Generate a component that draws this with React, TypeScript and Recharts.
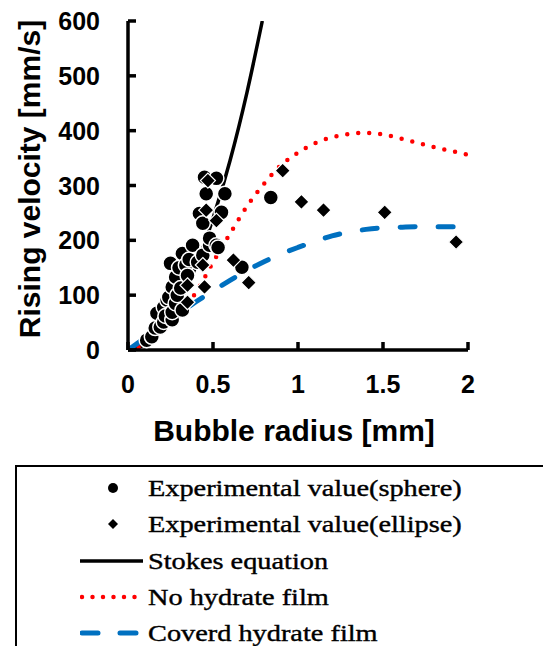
import React from 'react';
import { ComposedChart, Line, Scatter, XAxis, YAxis, Legend, Label } from 'recharts';

// bubble radius [mm] / rising velocity [mm/s]
const sphere: [number, number][] = [
  [0.11, 18], [0.14, 24], [0.16, 40], [0.17, 67], [0.19, 42], [0.21, 51], [0.21, 78],
  [0.22, 62], [0.23, 91], [0.24, 96], [0.25, 158], [0.26, 55], [0.26, 69], [0.26, 115],
  [0.28, 85], [0.28, 133], [0.29, 100], [0.30, 150], [0.31, 113], [0.32, 73], [0.32, 176],
  [0.34, 155], [0.35, 136], [0.36, 165], [0.38, 191], [0.41, 160], [0.42, 249],
  [0.44, 173], [0.44, 231], [0.45, 315], [0.46, 285], [0.48, 191], [0.48, 204],
  [0.52, 191], [0.52, 313], [0.53, 187], [0.55, 251], [0.57, 285], [0.67, 151], [0.84, 278],
];
const ellipse: [number, number][] = [
  [0.35, 87], [0.35, 118], [0.44, 155], [0.45, 115], [0.46, 255], [0.47, 309],
  [0.52, 236], [0.62, 164], [0.71, 123], [0.91, 327], [1.02, 270], [1.15, 255],
  [1.51, 251], [1.93, 197],
];
const stokesR = [0, 0.1, 0.2, 0.3, 0.4, 0.5, 0.6, 0.7, 0.79];
const stokesV = [0, 10, 38, 86, 153, 240, 345, 470, 600];
const curveR = [0, 0.1, 0.2, 0.3, 0.4, 0.5, 0.6, 0.7, 0.8, 0.9, 1.0, 1.1, 1.2, 1.3, 1.4, 1.5, 1.6, 1.7, 1.8, 1.9, 2.0];
const noFilmV = [0, 10, 33, 66, 105, 160, 212, 262, 303, 337, 360, 377, 388, 394, 396, 393, 386, 378, 370, 363, 356];
const coveredV = [0, 22, 45, 67, 88, 108, 127, 145, 161, 175, 187, 198, 208, 215, 220, 223, 224, 225, 225, 225, 225];
const xTicks = [0, 0.5, 1, 1.5, 2];
const yTicks = [0, 100, 200, 300, 400, 500, 600];
const legendNames = [
  'Experimental value(sphere)',
  'Experimental value(ellipse)',
  'Stokes equation',
  'No hydrate film',
  'Coverd hydrate film',
];

const toPts = (pairs: [number, number][]) => pairs.map(([r, v]) => ({ r, v }));
const sphereData = toPts(sphere);
const ellipseData = toPts(ellipse);
const stokesData = stokesR.map((r, i) => ({ r, v: stokesV[i] }));
const noFilmData = curveR.map((r, i) => ({ r, v: noFilmV[i] }));
const coveredData = curveR.map((r, i) => ({ r, v: coveredV[i] }));

const SANS = '"Liberation Sans", Arial, sans-serif';
const SERIF = '"Liberation Serif", "Times New Roman", serif';
const AXIS = { stroke: '#000', strokeWidth: 3.5 };
const TICKLINE = { stroke: '#000', strokeWidth: 3.5 };

// tickSize is negative so recharts draws the tick marks pointing into the plot
const LeftTick = (p: any) => (
  <text x={p.x - 36} y={p.y + 9} textAnchor="end" fontFamily={SANS} fontWeight="bold" fontSize={25} fill="#000">
    {p.payload.value}
  </text>
);
const BottomTick = (p: any) => (
  <text x={p.x} y={p.y + 51} textAnchor="middle" fontFamily={SANS} fontWeight="bold" fontSize={25} fill="#000">
    {p.payload.value}
  </text>
);

const Circle = (p: any) => <circle cx={p.cx} cy={p.cy} r={7.5} fill="#000" stroke="#fff" strokeWidth={1.5} />;
const Diamond = (p: any) => (
  <path d={`M${p.cx},${p.cy - 7.5}L${p.cx + 7.5},${p.cy}L${p.cx},${p.cy + 7.5}L${p.cx - 7.5},${p.cy}Z`} fill="#000" stroke="#fff" strokeWidth={1.2} />
);

const LegendIcon = ({ i }: { i: number }) => {
  if (i === 0) return <circle cx={33} cy={18} r={5} fill="#000" />;
  if (i === 1) return <path d="M33,13L38,18L33,23L28,18Z" fill="#000" />;
  if (i === 2) return <line x1={0} x2={63} y1={18} y2={18} stroke="#000" strokeWidth={3.5} />;
  if (i === 3) return <line x1={2} x2={58} y1={18} y2={18} stroke="#ff0000" strokeWidth={4.5} strokeLinecap="round" strokeDasharray="0 10.5" />;
  return <line x1={2} x2={58} y1={18} y2={18} stroke="#0070c0" strokeWidth={5} strokeLinecap="round" strokeDasharray="16 22" />;
};

const LegendBox = () => (
  <div style={{ border: '2px solid #000', width: 540, height: 200, paddingTop: 3, boxSizing: 'border-box' }}>
    {legendNames.map((name, i) => (
      <div key={name} style={{ position: 'relative', height: 36.3 }}>
        <svg width={66} height={36} style={{ position: 'absolute', left: 63, top: 0 }}>
          <LegendIcon i={i} />
        </svg>
        <span
          style={{
            position: 'absolute', left: 131, top: 0, lineHeight: '36px', fontFamily: SERIF, fontSize: 24,
            color: '#000', whiteSpace: 'nowrap', display: 'inline-block', transform: 'scaleX(1.18)',
            transformOrigin: 'left center', WebkitTextStroke: '0.4px #000',
          }}
        >
          {name}
        </span>
      </div>
    ))}
  </div>
);

export default function App() {
  return (
    <div style={{ position: 'absolute', left: 0, top: 0, width: 543, height: 646, background: '#fff' }}>
      <ComposedChart width={543} height={646} margin={{ top: 21, right: 75, bottom: 236, left: 0 }}>
        <XAxis
          xAxisId="b" dataKey="r" type="number" domain={[0, 2]} ticks={xTicks} interval={0}
          allowDataOverflow height={60} axisLine={AXIS} tickLine={TICKLINE} tickSize={-8} tickMargin={0} tick={<BottomTick />}
        >
          <Label
            content={(p: any) => (
              <text x={p.viewBox.x + p.viewBox.width / 2 - 4} y={441} textAnchor="middle" fontFamily={SANS} fontWeight="bold" fontSize={30} fill="#000">
                Bubble radius [mm]
              </text>
            )}
          />
        </XAxis>
        <XAxis xAxisId="t" orientation="top" type="number" domain={[0, 2]} allowDataOverflow height={0} axisLine={AXIS} tick={false} tickLine={false} />
        <YAxis
          yAxisId="l" dataKey="v" type="number" domain={[0, 600]} ticks={yTicks} interval={0}
          allowDataOverflow width={128} axisLine={AXIS} tickLine={TICKLINE} tickSize={-8} tickMargin={0} tick={<LeftTick />}
        >
          <Label
            content={() => (
              <text x={40} y={179} transform="rotate(-90, 40, 179)" textAnchor="middle" fontFamily={SANS} fontWeight="bold" fontSize={30} fill="#000">
                Rising velocity [mm/s]
              </text>
            )}
          />
        </YAxis>
        <YAxis
          yAxisId="r" orientation="right" type="number" domain={[0, 600]} ticks={yTicks} interval={0}
          allowDataOverflow width={0} axisLine={AXIS} tickLine={TICKLINE} tickSize={-8} tickMargin={0} tick={() => <g />}
        />
        <Line xAxisId="b" yAxisId="l" data={stokesData} dataKey="v" type="monotone" stroke="#000" strokeWidth={3.5} dot={false} isAnimationActive={false} name={legendNames[2]} />
        <Line xAxisId="b" yAxisId="l" data={noFilmData} dataKey="v" type="monotone" stroke="#ff0000" strokeWidth={4.5} strokeLinecap="round" strokeDasharray="0 11" dot={false} isAnimationActive={false} name={legendNames[3]} />
        <Line xAxisId="b" yAxisId="l" data={coveredData} dataKey="v" type="monotone" stroke="#0070c0" strokeWidth={5} strokeLinecap="round" strokeDasharray="15 23" dot={false} isAnimationActive={false} name={legendNames[4]} />
        <Scatter xAxisId="b" yAxisId="l" data={sphereData} dataKey="v" shape={<Circle />} isAnimationActive={false} name={legendNames[0]} />
        <Scatter xAxisId="b" yAxisId="l" data={ellipseData} dataKey="v" shape={<Diamond />} isAnimationActive={false} name={legendNames[1]} />
        <Legend
          layout="vertical" align="center" verticalAlign="middle"
          wrapperStyle={{ position: 'absolute', left: 15, top: 465, width: 540, height: 200 }}
          content={() => <LegendBox />}
        />
      </ComposedChart>
    </div>
  );
}
